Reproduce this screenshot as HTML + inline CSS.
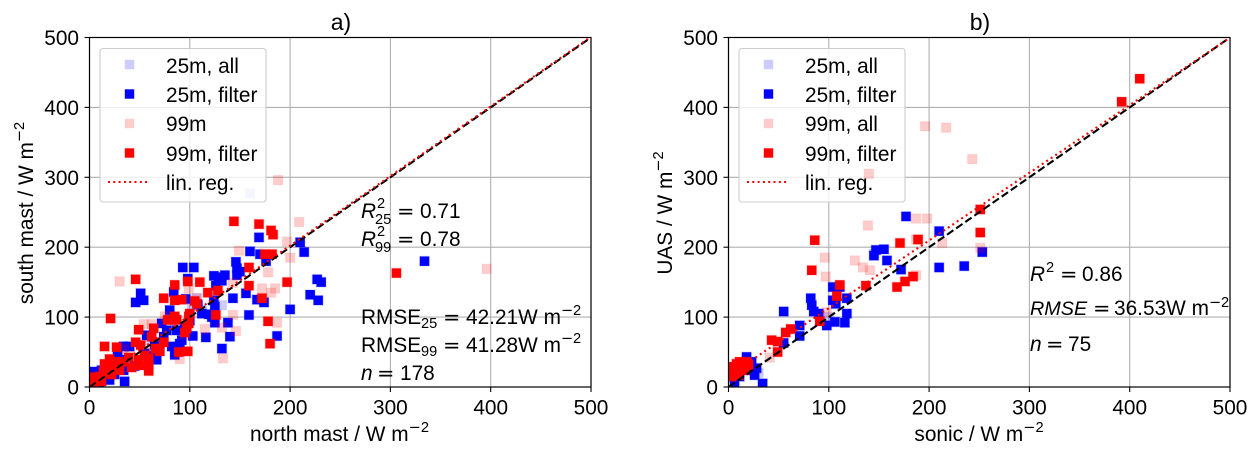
<!DOCTYPE html>
<html lang="en">
<head>
<meta charset="utf-8">
<title>Scatter comparison</title>
<style>
html,body{margin:0;padding:0;background:#fff;width:1259px;height:453px;overflow:hidden}
svg{display:block;font-family:"Liberation Sans",Arial,sans-serif;fill:#000}
.t{font-size:20.83px}
.h{font-size:23px}
.s{font-size:14.6px}
.i{font-style:italic}
.e{font-family:"DejaVu Sans",sans-serif}
</style>
</head>
<body>
<svg id="fig" xmlns="http://www.w3.org/2000/svg" width="1259" height="453" viewBox="0 0 1259 453">
  <defs>
    <clipPath id="clipA"><rect x="89.5" y="37.5" width="501.5" height="349.5"/></clipPath>
    <clipPath id="clipB"><rect x="728.5" y="37.5" width="501.5" height="349.5"/></clipPath>
  </defs>
  <g id="panelA"></g>
  <g id="panelB"></g>

  <text class="h" x="341" y="30" text-anchor="middle">a)</text>
  <text class="h" x="980" y="30" text-anchor="middle">b)</text>

  <text class="t" x="339.5" y="441" text-anchor="middle">north mast / W m<tspan class="s e" dy="-9">−</tspan><tspan class="s">2</tspan></text>
  <text class="t" x="979" y="441" text-anchor="middle">sonic / W m<tspan class="s e" dy="-9">−</tspan><tspan class="s">2</tspan></text>
  <text class="t" transform="translate(33 213) rotate(-90)" text-anchor="middle">south mast / W m<tspan class="s e" dy="-9">−</tspan><tspan class="s">2</tspan></text>
  <text class="t" transform="translate(672 213) rotate(-90)" text-anchor="middle">UAS / W m<tspan class="s e" dy="-9">−</tspan><tspan class="s">2</tspan></text>

  <g>
    <text class="t"><tspan class="i" x="361" y="218">R</tspan><tspan class="s" x="377" y="208">2</tspan><tspan class="s" x="375" y="224">25</tspan><tspan class="e" x="397" y="218">=</tspan><tspan x="420" y="218">0.71</tspan></text>
    <text class="t"><tspan class="i" x="361" y="246">R</tspan><tspan class="s" x="377" y="236">2</tspan><tspan class="s" x="375" y="252">99</tspan><tspan class="e" x="397" y="246">=</tspan><tspan x="420" y="246">0.78</tspan></text>
    <text class="t"><tspan x="361" y="324">RMSE</tspan><tspan class="s" x="421" y="328">25</tspan><tspan class="e" x="443" y="324">=</tspan><tspan x="466" y="324">42.21W m</tspan><tspan class="s e" x="561" y="315">−</tspan><tspan class="s" x="573" y="315">2</tspan></text>
    <text class="t"><tspan x="361" y="352">RMSE</tspan><tspan class="s" x="421" y="356">99</tspan><tspan class="e" x="443" y="352">=</tspan><tspan x="466" y="352">41.28W m</tspan><tspan class="s e" x="561" y="343">−</tspan><tspan class="s" x="573" y="343">2</tspan></text>
    <text class="t"><tspan class="i" x="361" y="380">n</tspan><tspan class="e" x="377" y="380">=</tspan><tspan x="400" y="380">178</tspan></text>
  </g>
  <g>
    <text class="t"><tspan class="i" x="1030" y="281">R</tspan><tspan class="s" x="1046" y="272">2</tspan><tspan class="e" x="1060" y="281">=</tspan><tspan x="1082" y="281">0.86</tspan></text>
    <text class="t"><tspan class="i" x="1030" y="315" style="font-size:19.8px">RMSE</tspan><tspan class="e" x="1093" y="315">=</tspan><tspan x="1114" y="315">36.53W m</tspan><tspan class="s e" x="1209" y="307">−</tspan><tspan class="s" x="1221" y="307">2</tspan></text>
    <text class="t"><tspan class="i" x="1030" y="351">n</tspan><tspan class="e" x="1046" y="351">=</tspan><tspan x="1068" y="351">75</tspan></text>
  </g>
</svg>
<script>
const tickValues = [0, 100, 200, 300, 400, 500];
const tickLabels = ['0', '100', '200', '300', '400', '500'];

const a25AllX = [160, 102, 132, 107, 60, 85, 112];
const a25AllY = [277, 116, 117, 127, 70, 85, 110];
const a25FilterX = [169,160,146,147,147,104,93,98,124,129,132,51,54,46,84,210,214,170,176,227,231,220,228,156,143,167,174,200,159,187,140,132,116,103,138,125,119,125,124,96,112,35,92,87,77,72,74,82,85,90,67,57,40,34,30,20,7,17,34,334,65,70,55,45,25,12,5,95,108,122,150,126,135,80,100,62,28,10,3];
const a25FilterY = [214,194,179,170,160,171,171,155,159,157,152,134,124,121,136,207,193,190,180,154,150,132,124,134,127,125,121,111,103,73,72,55,71,73,92,92,104,115,124,126,105,8,67,81,81,91,72,58,46,62,39,74,58,58,39,10,20,29,24,180,60,52,48,30,18,24,12,85,118,100,165,145,160,110,95,45,50,6,22];
const a99AllX = [188,30,209,197,200,149,178,172,181,185,187,143,146,132,115,133,90,99,143,54,62,62,75,34,396,107,95,40,20];
const a99AllY = [296,151,236,208,185,195,164,141,135,141,92,103,80,85,83,41,40,141,149,90,90,53,101,55,169,127,75,45,28];
const a99FilterX = [144,169,181,183,46,21,15,27,74,85,98,110,118,128,85,92,105,107,159,159,172,197,178,180,175,182,126,99,97,99,78,85,80,87,49,64,62,46,51,74,70,89,98,49,50,59,59,59,39,34,20,27,30,15,14,7,2,10,24,19,306,5,12,42,55,22,95,100,66,4];
const a99FilterY = [237,233,224,218,154,98,58,57,127,146,151,150,135,138,124,125,123,119,171,145,127,150,94,62,190,190,103,101,84,91,96,101,96,96,82,84,72,64,60,64,51,50,51,39,31,41,31,23,42,36,40,36,24,33,22,10,5,15,29,20,163,3,8,28,45,18,78,105,55,14];
const aRegressionSlope = [0.996];
const aRegressionIntercept = [3];

const b25AllX = [30, 100, 145];
const b25AllY = [20, 100, 190];
const b25FilterX = [177,210,253,235,210,172,158,155,147,145,104,111,118,107,104,82,83,85,90,55,71,71,55,118,116,106,98,34,28,26,18,23,6,11,16,21];
const b25FilterY = [244,223,193,173,171,168,181,197,196,188,143,143,127,119,124,127,117,108,105,108,88,73,63,105,92,93,88,5,27,17,43,36,3,15,31,24];
const b99AllX = [187,198,139,96,97,126,134,141,213,251,187,41,98,196,217,243,140,187];
const b99AllY = [241,241,231,185,158,181,171,167,206,199,160,42,107,373,371,326,305,211];
const b99FilterX = [251,251,189,171,86,83,111,108,137,168,176,184,91,57,62,43,49,49,11,18,5,2,11,16,6,3,10,20,392,410,8,14];
const b99FilterY = [254,221,211,206,210,167,146,130,145,143,151,158,94,78,83,67,65,50,36,36,29,22,27,24,17,15,17,31,408,441,33,30];
const bRegressionSlope = [0.968];
const bRegressionIntercept = [16];

const legendLabelsA = ['25m, all', '25m, filter', '99m', '99m, filter', 'lin. reg.'];
const legendLabelsB = ['25m, all', '25m, filter', '99m, all', '99m, filter', 'lin. reg.'];

const NS = 'http://www.w3.org/2000/svg';
function make(parent, tag, attrs) {
  const el = document.createElementNS(NS, tag);
  for (const k in attrs) el.setAttribute(k, attrs[k]);
  parent.appendChild(el);
  return el;
}

function drawPanel(root, cfg) {
  const x0 = cfg.left, x1 = cfg.left + 501.5, y0 = 387, y1 = 37.5;
  const sx = v => x0 + (v / 500) * (x1 - x0);
  const sy = v => y0 - (v / 500) * (y0 - y1);

  function drawSeries(parent, s) {
    s.x.forEach((xv, i) => {
      const r = make(parent, 'rect', {
        x: sx(xv) - 4.7, y: sy(s.y[i]) - 4.7, width: 9.4, height: 9.4,
        fill: s.color, 'fill-opacity': s.alpha,
        stroke: s.color, 'stroke-opacity': s.alpha < 1 ? 0.06 : 0.16, 'stroke-width': 1.4
      });
      
      
    });
  }

  tickValues.forEach((v, i) => {
    const gx = make(root, 'line', {x1: sx(v), x2: sx(v), y1: y0, y2: y1, stroke: '#b0b0b0', 'stroke-width': 1.1});
    
    
    const gy = make(root, 'line', {x1: x0, x2: x1, y1: sy(v), y2: sy(v), stroke: '#b0b0b0', 'stroke-width': 1.1});
    
    
  });

  const lower = make(root, 'g', {'clip-path': 'url(#' + cfg.clip + ')'});
  
  
  drawSeries(lower, cfg.series[0]);
  drawSeries(lower, cfg.series[1]);

  const lg = make(root, 'g', {});
  
  
  const lb = x0 + 10.5;
  const box = make(lg, 'rect', {x: lb, y: 48.5, width: 166, height: 153.5, rx: 3, ry: 3, fill: '#fff', 'fill-opacity': 0.8, stroke: '#ccc', 'stroke-width': 1.1});
  
  
  const rowMark = [64.5, 94, 123.5, 153];
  const rowText = [73, 102, 131, 161, 190];
  const legendColors = ['#ccccff', '#0000ff', '#ffcccc', '#ff0000'];
  cfg.legend.forEach((label, i) => {
    if (i < 4) {
      const m = make(lg, 'rect', {x: lb + 24.8, y: rowMark[i] - 4.7, width: 9.4, height: 9.4, fill: legendColors[i]});
      
      
    } else {
      const m = make(lg, 'line', {x1: lb + 8, x2: lb + 50, y1: 182, y2: 182, stroke: '#f00', 'stroke-width': 2, 'stroke-dasharray': '2 3.3'});
      
      
    }
    const t = make(lg, 'text', {x: lb + 66, y: rowText[i], class: 't'});
    
    
    t.textContent = label;
  });

  const upper = make(root, 'g', {'clip-path': 'url(#' + cfg.clip + ')'});
  
  
  drawSeries(upper, cfg.series[2]);
  drawSeries(upper, cfg.series[3]);

  const ref = make(upper, 'line', {x1: sx(0), y1: sy(0), x2: sx(500), y2: sy(500), stroke: '#000', 'stroke-width': 2.1, 'stroke-dasharray': '7.7 3.4'});
  
  
  const reg = make(upper, 'line', {
    x1: sx(0), y1: sy(cfg.intercept[0]),
    x2: sx(500), y2: sy(cfg.intercept[0] + cfg.slope[0] * 500),
    stroke: '#f00', 'stroke-width': 2.1, 'stroke-dasharray': '2 3.4'
  });
  
  

  const frame = make(root, 'rect', {x: x0, y: y1, width: x1 - x0, height: y0 - y1, fill: 'none', stroke: '#000', 'stroke-width': 1.2});
  
  

  tickValues.forEach((v, i) => {
    const tx = make(root, 'line', {x1: sx(v), x2: sx(v), y1: y0, y2: y0 + 5, stroke: '#000', 'stroke-width': 1.1});
    
    
    const ty = make(root, 'line', {x1: x0 - 5, x2: x0, y1: sy(v), y2: sy(v), stroke: '#000', 'stroke-width': 1.1});
    
    
    const lx = make(root, 'text', {x: sx(v), y: 414.5, 'text-anchor': 'middle', class: 't'});
    
    
    lx.textContent = tickLabels[i];
    const ly = make(root, 'text', {x: x0 - 10.5, y: sy(v) + 7.5, 'text-anchor': 'end', class: 't'});
    
    
    ly.textContent = tickLabels[i];
  });
}

drawPanel(document.getElementById('panelA'), {
  left: 89.5, clip: 'clipA', legend: legendLabelsA,
  slope: aRegressionSlope, intercept: aRegressionIntercept,
  series: [
    {name: 'point-25m-all', x: a25AllX, y: a25AllY, color: '#0000ff', alpha: 0.2},
    {name: 'point-25m-filter', x: a25FilterX, y: a25FilterY, color: '#0000ff', alpha: 1},
    {name: 'point-99m-all', x: a99AllX, y: a99AllY, color: '#ff0000', alpha: 0.2},
    {name: 'point-99m-filter', x: a99FilterX, y: a99FilterY, color: '#ff0000', alpha: 1}
  ]
});
drawPanel(document.getElementById('panelB'), {
  left: 728.5, clip: 'clipB', legend: legendLabelsB,
  slope: bRegressionSlope, intercept: bRegressionIntercept,
  series: [
    {name: 'point-25m-all', x: b25AllX, y: b25AllY, color: '#0000ff', alpha: 0.2},
    {name: 'point-25m-filter', x: b25FilterX, y: b25FilterY, color: '#0000ff', alpha: 1},
    {name: 'point-99m-all', x: b99AllX, y: b99AllY, color: '#ff0000', alpha: 0.2},
    {name: 'point-99m-filter', x: b99FilterX, y: b99FilterY, color: '#ff0000', alpha: 1}
  ]
});
</script>
</body>
</html>
